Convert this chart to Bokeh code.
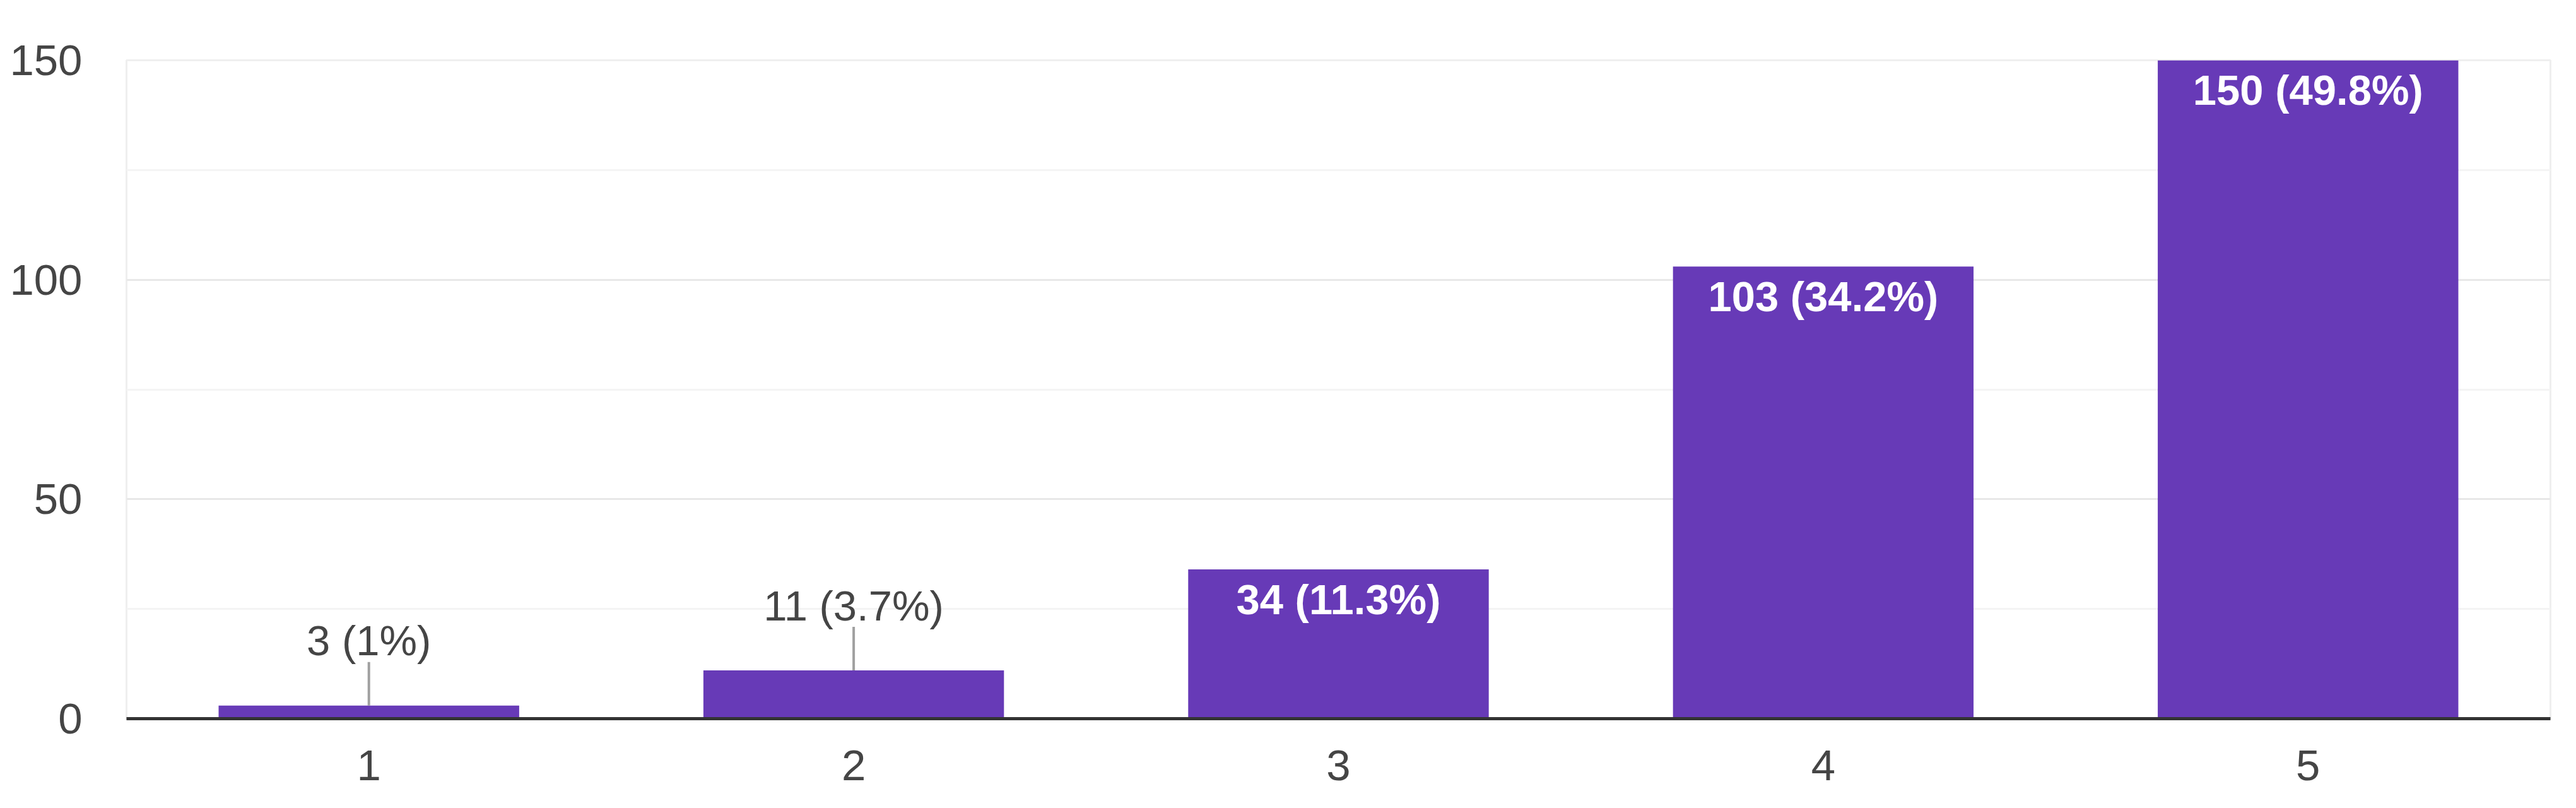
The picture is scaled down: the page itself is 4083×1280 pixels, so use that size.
from bokeh.plotting import figure
from bokeh.models import FactorRange, Range1d, FixedTicker, ColumnDataSource, LabelSet
from bokeh.core.properties import value
from bokeh.embed import file_html
from bokeh.resources import INLINE

# ---- data ----
categories = ["1", "2", "3", "4", "5"]
counts = [3, 11, 34, 103, 150]
percents = ["1%", "3.7%", "11.3%", "34.2%", "49.8%"]
y_ticks = [0, 50, 100, 150]
y_minor = [25, 75, 125]

labels = [f"{c} ({p})" for c, p in zip(counts, percents)]

W, H = 4067, 1264
BL, BR, BT, BB = 200, 25, 95, 126
YMAX = 150
frame_h = H - BT - BB
px_per_unit = frame_h / YMAX

p = figure(width=W, height=H, x_range=FactorRange(factors=categories, range_padding=0),
           y_range=Range1d(0, YMAX), output_backend="svg", toolbar_location=None,
           min_border_left=BL, min_border_right=BR, min_border_top=BT, min_border_bottom=BB)

p.background_fill_color = "white"
p.outline_line_color = "#efefef"
p.outline_line_width = 3

p.xgrid.grid_line_color = None
p.ygrid.grid_line_color = "#e8e8e8"
p.ygrid.grid_line_width = 3
p.ygrid.minor_grid_line_color = "#f4f4f4"
p.ygrid.minor_grid_line_width = 3
p.yaxis.ticker = FixedTicker(ticks=y_ticks, minor_ticks=y_minor)

font = "Liberation Sans"
for ax in (p.xaxis, p.yaxis):
    ax.major_tick_line_color = None
    ax.minor_tick_line_color = None
    ax.major_tick_out = 0
    ax.major_tick_in = 0
    ax.minor_tick_out = 0
    ax.major_label_text_font = font
    ax.major_label_text_font_size = "69px"
    ax.major_label_text_color = "#454545"

p.yaxis.axis_line_color = None
p.yaxis.major_label_standoff = 70
p.xaxis.axis_line_color = "#333333"
p.xaxis.axis_line_width = 5
p.xaxis.major_label_standoff = 50

src = ColumnDataSource(dict(x=categories, top=counts, label=labels))
p.vbar(x="x", top="top", width=0.62, source=src, fill_color="#673ab7", line_color=None)

# labels: inside bars that are tall enough, above with leader line otherwise
inside_thresh = 20
ins = [i for i, c in enumerate(counts) if c >= inside_thresh]
outs = [i for i, c in enumerate(counts) if c < inside_thresh]

src_in = ColumnDataSource(dict(x=[categories[i] for i in ins], y=[counts[i] for i in ins],
                               label=[labels[i] for i in ins]))
src_out = ColumnDataSource(dict(x=[categories[i] for i in outs], y=[counts[i] for i in outs],
                                y1=[counts[i] + 69 / px_per_unit for i in outs],
                                label=[labels[i] for i in outs]))

p.segment(x0="x", y0="y", x1="x", y1="y1", source=src_out, line_color="#a0a0a0", line_width=4)

p.add_layout(LabelSet(x="x", y="y", text="label", source=src_in, y_offset=-47,
                      text_align="center", text_baseline="middle", text_color="white",
                      text_font=value(font), text_font_size="67px", text_font_style="bold"))
p.add_layout(LabelSet(x="x", y="y", text="label", source=src_out, y_offset=103,
                      text_align="center", text_baseline="middle", text_color="#454545",
                      text_font=value(font), text_font_size="67px"))

open("out.html", "w").write(file_html(p, INLINE))
